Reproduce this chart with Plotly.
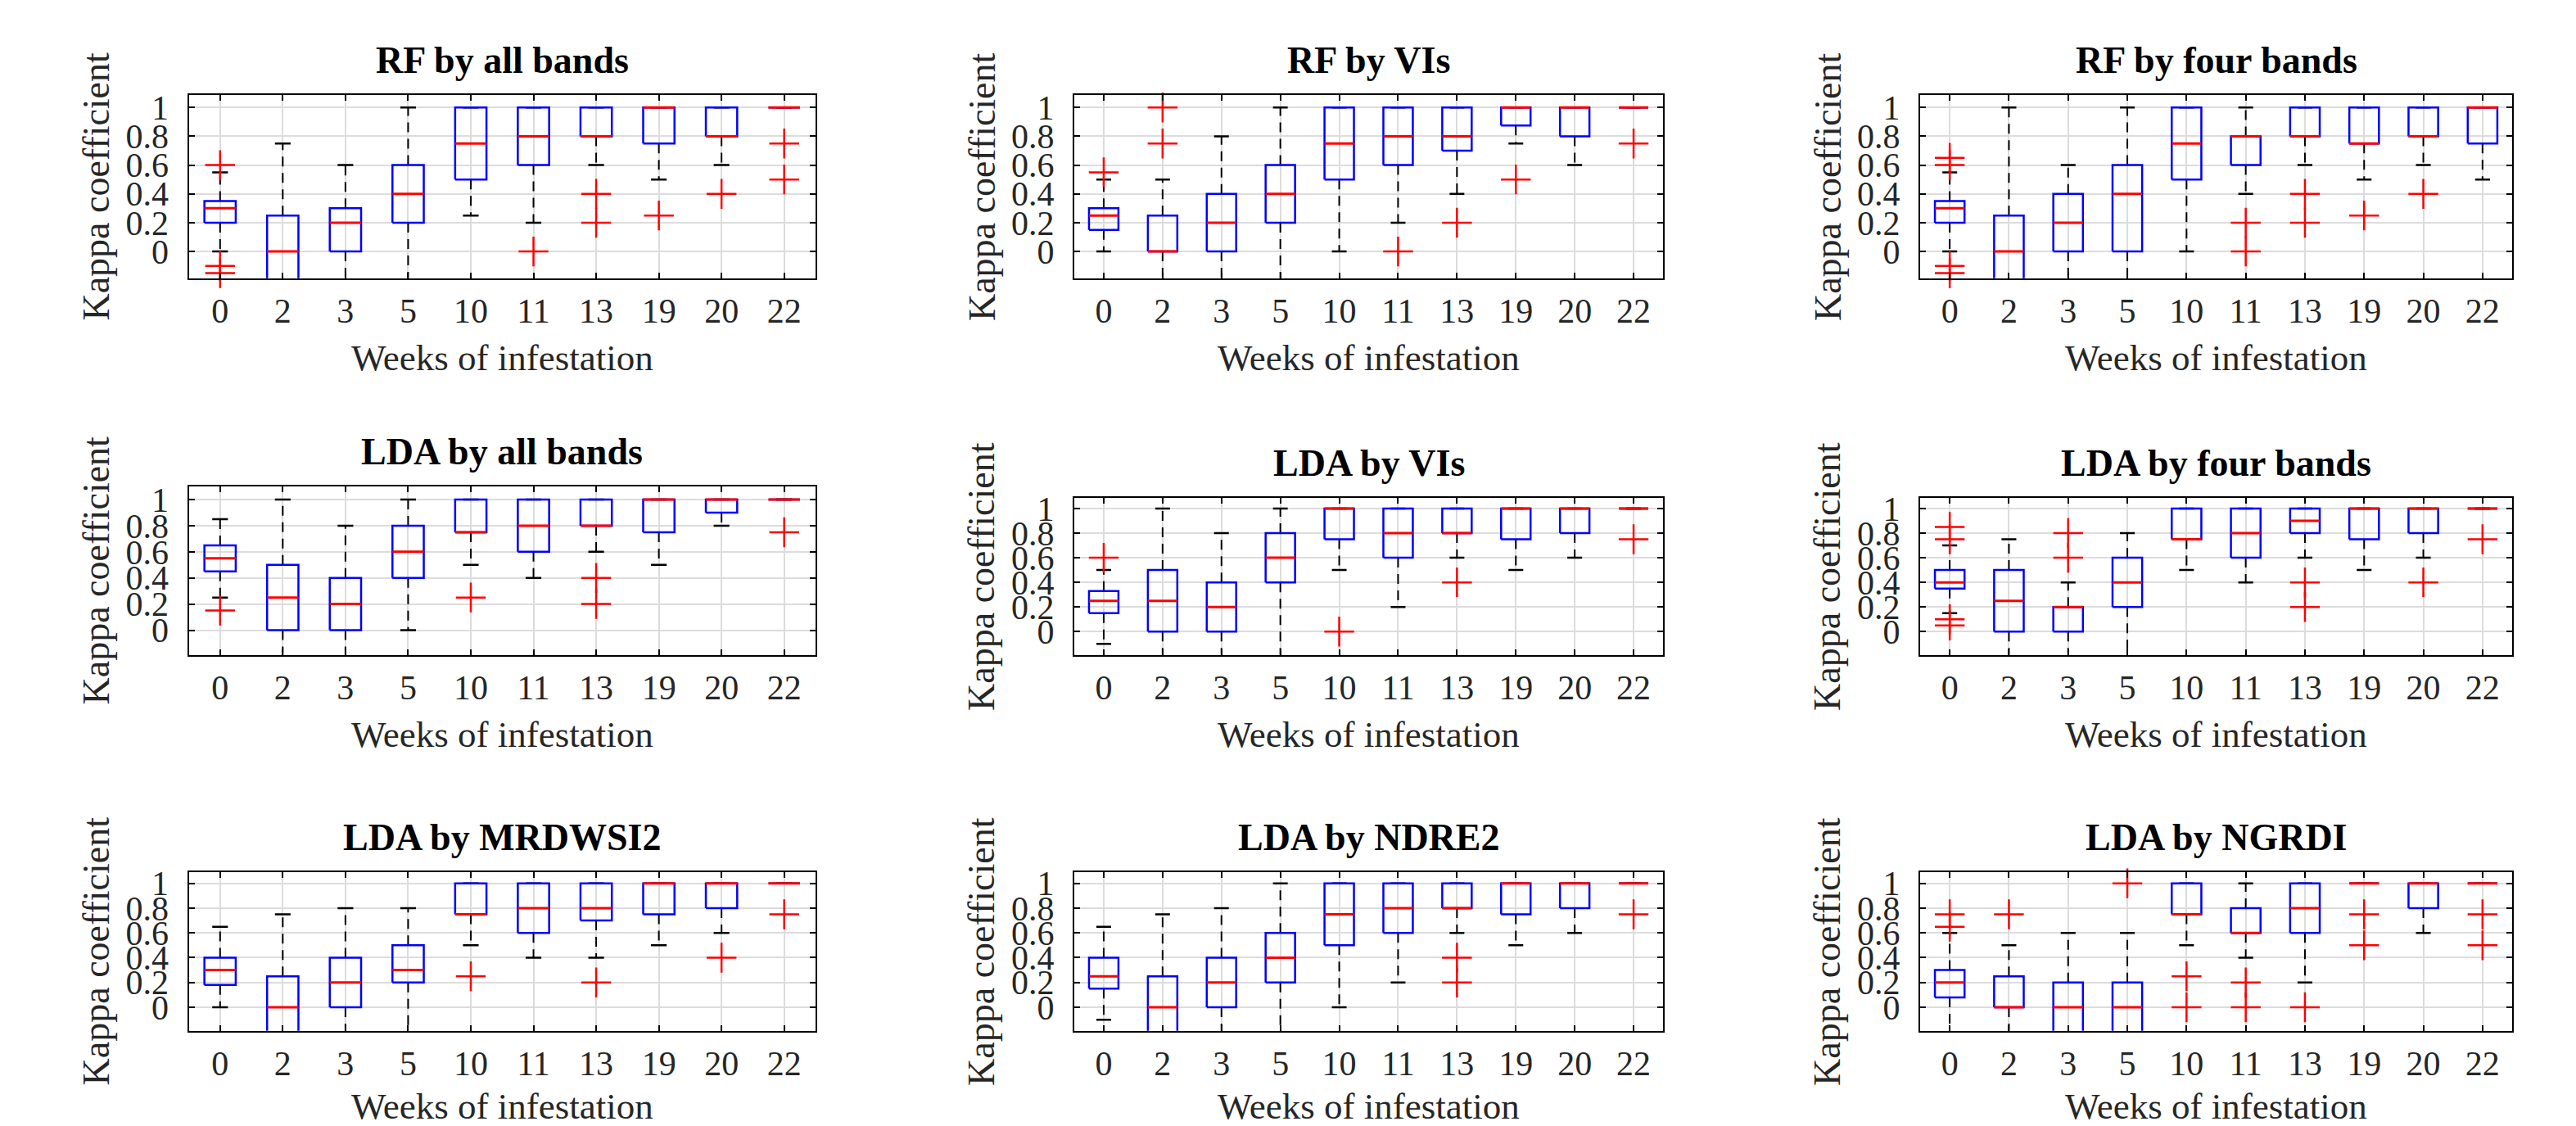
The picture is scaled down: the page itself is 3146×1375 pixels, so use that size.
import plotly.graph_objects as go

WEEKS = ["0", "2", "3", "5", "10", "11", "13", "19", "20", "22"]
TITLES = ["RF by all bands", "RF by VIs", "RF by four bands",
          "LDA by all bands", "LDA by VIs", "LDA by four bands",
          "LDA by MRDWSI2", "LDA by NDRE2", "LDA by NGRDI"]

# ---- Panel 1: RF by all bands ----
P1_LW = [0, -0.3, -0.3, -0.3, 0.25, 0.2, 0.6, 0.5, 0.6, 1]
P1_Q1 = [0.2, -0.25, 0, 0.2, 0.5, 0.6, 0.8, 0.75, 0.8, 1]
P1_MED = [0.3, 0, 0.2, 0.4, 0.75, 0.8, 0.8, 1, 0.8, 1]
P1_Q3 = [0.35, 0.25, 0.3, 0.6, 1, 1, 1, 1, 1, 1]
P1_UW = [0.55, 0.75, 0.6, 1, 1, 1, 1, 1, 1, 1]
P1_OUT_WEEK = ["0", "0", "0", "0", "11", "13", "13", "19", "20", "22", "22"]
P1_OUT_VAL = [0.6, -0.1, -0.15, -0.2, 0, 0.4, 0.2, 0.25, 0.4, 0.75, 0.5]

# ---- Panel 2: RF by VIs ----
P2_LW = [0, -0.3, -0.3, -0.2, 0, 0.2, 0.4, 0.75, 0.6, 1]
P2_Q1 = [0.15, 0, 0, 0.2, 0.5, 0.6, 0.7, 0.875, 0.8, 1]
P2_MED = [0.25, 0, 0.2, 0.4, 0.75, 0.8, 0.8, 1, 1, 1]
P2_Q3 = [0.3, 0.25, 0.4, 0.6, 1, 1, 1, 1, 1, 1]
P2_UW = [0.5, 0.5, 0.8, 1, 1, 1, 1, 1, 1, 1]
P2_OUT_WEEK = ["0", "2", "2", "11", "13", "19", "22"]
P2_OUT_VAL = [0.55, 1, 0.75, 0, 0.2, 0.5, 0.75]

# ---- Panel 3: RF by four bands ----
P3_LW = [0, -0.3, -0.3, -0.3, 0, 0.4, 0.6, 0.5, 0.6, 0.5]
P3_Q1 = [0.2, -0.25, 0, 0, 0.5, 0.6, 0.8, 0.75, 0.8, 0.75]
P3_MED = [0.3, 0, 0.2, 0.4, 0.75, 0.8, 0.8, 0.75, 0.8, 1]
P3_Q3 = [0.35, 0.25, 0.4, 0.6, 1, 0.8, 1, 1, 1, 1]
P3_UW = [0.55, 1, 0.6, 1, 1, 1, 1, 1, 1, 1]
P3_OUT_WEEK = ["0", "0", "0", "0", "11", "11", "13", "13", "19", "20"]
P3_OUT_VAL = [0.65, 0.6, -0.1, -0.15, 0.2, 0, 0.4, 0.2, 0.25, 0.4]

# ---- Panel 4: LDA by all bands ----
P4_LW = [0.25, -0.3, -0.2, 0, 0.5, 0.4, 0.6, 0.5, 0.8, 1]
P4_Q1 = [0.45, 0, 0, 0.4, 0.75, 0.6, 0.8, 0.75, 0.9, 1]
P4_MED = [0.55, 0.25, 0.2, 0.6, 0.75, 0.8, 0.8, 1, 1, 1]
P4_Q3 = [0.65, 0.5, 0.4, 0.8, 1, 1, 1, 1, 1, 1]
P4_UW = [0.85, 1, 0.8, 1, 1, 1, 1, 1, 1, 1]
P4_OUT_WEEK = ["0", "10", "13", "13", "22"]
P4_OUT_VAL = [0.15, 0.25, 0.4, 0.2, 0.75]

# ---- Panel 5: LDA by VIs ----
P5_LW = [-0.1, -0.3, -0.3, -0.2, 0.5, 0.2, 0.6, 0.5, 0.6, 1]
P5_Q1 = [0.15, 0, 0, 0.4, 0.75, 0.6, 0.8, 0.75, 0.8, 1]
P5_MED = [0.25, 0.25, 0.2, 0.6, 1, 0.8, 0.8, 1, 1, 1]
P5_Q3 = [0.33, 0.5, 0.4, 0.8, 1, 1, 1, 1, 1, 1]
P5_UW = [0.5, 1, 0.8, 1, 1, 1, 1, 1, 1, 1]
P5_OUT_WEEK = ["0", "10", "13", "22"]
P5_OUT_VAL = [0.6, 0, 0.4, 0.75]

# ---- Panel 6: LDA by four bands ----
P6_LW = [0.15, -0.3, -0.2, -0.3, 0.5, 0.4, 0.6, 0.5, 0.6, 1]
P6_Q1 = [0.35, 0, 0, 0.2, 0.75, 0.6, 0.8, 0.75, 0.8, 1]
P6_MED = [0.4, 0.25, 0.2, 0.4, 0.75, 0.8, 0.9, 1, 1, 1]
P6_Q3 = [0.5, 0.5, 0.2, 0.6, 1, 1, 1, 1, 1, 1]
P6_UW = [0.7, 0.75, 0.4, 0.8, 1, 1, 1, 1, 1, 1]
P6_OUT_WEEK = ["0", "0", "0", "0", "3", "3", "13", "13", "20", "22"]
P6_OUT_VAL = [0.85, 0.75, 0.1, 0.05, 0.8, 0.6, 0.4, 0.2, 0.4, 0.75]

# ---- Panel 7: LDA by MRDWSI2 ----
P7_LW = [0, -0.3, -0.3, -0.2, 0.5, 0.4, 0.4, 0.5, 0.6, 1]
P7_Q1 = [0.18, -0.25, 0, 0.2, 0.75, 0.6, 0.7, 0.75, 0.8, 1]
P7_MED = [0.3, 0, 0.2, 0.3, 0.75, 0.8, 0.8, 1, 1, 1]
P7_Q3 = [0.4, 0.25, 0.4, 0.5, 1, 1, 1, 1, 1, 1]
P7_UW = [0.65, 0.75, 0.8, 0.8, 1, 1, 1, 1, 1, 1]
P7_OUT_WEEK = ["0", "10", "13", "20", "22"]
P7_OUT_VAL = [-0.2, 0.25, 0.2, 0.4, 0.75]

# ---- Panel 8: LDA by NDRE2 ----
P8_LW = [-0.1, -0.3, -0.3, -0.3, 0, 0.2, 0.6, 0.5, 0.6, 1]
P8_Q1 = [0.15, -0.25, 0, 0.2, 0.5, 0.6, 0.8, 0.75, 0.8, 1]
P8_MED = [0.25, 0, 0.2, 0.4, 0.75, 0.8, 0.8, 1, 1, 1]
P8_Q3 = [0.4, 0.25, 0.4, 0.6, 1, 1, 1, 1, 1, 1]
P8_UW = [0.65, 0.75, 0.8, 1, 1, 1, 1, 1, 1, 1]
P8_OUT_WEEK = ["13", "13", "22"]
P8_OUT_VAL = [0.4, 0.2, 0.75]

# ---- Panel 9: LDA by NGRDI ----
P9_LW = [-0.3, -0.3, -0.2, -0.2, 0.5, 0.4, 0.2, 1, 0.6, 1]
P9_Q1 = [0.08, 0, -0.2, -0.2, 0.75, 0.6, 0.6, 1, 0.8, 1]
P9_MED = [0.2, 0, 0, 0, 0.75, 0.6, 0.8, 1, 1, 1]
P9_Q3 = [0.3, 0.25, 0.2, 0.2, 1, 0.8, 1, 1, 1, 1]
P9_UW = [0.6, 0.5, 0.6, 0.6, 1, 1, 1, 1, 1, 1]
P9_OUT_WEEK = ["0", "0", "2", "5", "10", "10", "11", "11", "13", "19", "19", "22", "22"]
P9_OUT_VAL = [0.75, 0.65, 0.75, 1, 0.25, 0, 0.2, 0, 0, 0.75, 0.5, 0.75, 0.5]

PANELS = [
    (P1_LW, P1_Q1, P1_MED, P1_Q3, P1_UW, P1_OUT_WEEK, P1_OUT_VAL),
    (P2_LW, P2_Q1, P2_MED, P2_Q3, P2_UW, P2_OUT_WEEK, P2_OUT_VAL),
    (P3_LW, P3_Q1, P3_MED, P3_Q3, P3_UW, P3_OUT_WEEK, P3_OUT_VAL),
    (P4_LW, P4_Q1, P4_MED, P4_Q3, P4_UW, P4_OUT_WEEK, P4_OUT_VAL),
    (P5_LW, P5_Q1, P5_MED, P5_Q3, P5_UW, P5_OUT_WEEK, P5_OUT_VAL),
    (P6_LW, P6_Q1, P6_MED, P6_Q3, P6_UW, P6_OUT_WEEK, P6_OUT_VAL),
    (P7_LW, P7_Q1, P7_MED, P7_Q3, P7_UW, P7_OUT_WEEK, P7_OUT_VAL),
    (P8_LW, P8_Q1, P8_MED, P8_Q3, P8_UW, P8_OUT_WEEK, P8_OUT_VAL),
    (P9_LW, P9_Q1, P9_MED, P9_Q3, P9_UW, P9_OUT_WEEK, P9_OUT_VAL),
]

# ---------------- layout geometry (pixels) ----------------
W, H = 3146, 1375
COL_X = [(230.5, 996.0), (1312.0, 2031.0), (2345.0, 3068.0)]
PANEL_TB = [(108, 333), (108, 333), (108, 333),
            (589, 796), (603, 796), (603, 796),
            (1063, 1258), (1063, 1258), (1063, 1258)]
YRANGE = [(-0.186, 1.085)] * 3 + [(-0.19, 1.10), (-0.19, 1.086), (-0.19, 1.086)] + [(-0.19, 1.09)] * 3
XTITLE_OFFSET = [98, 98, 98, 98, 98, 98, 93, 93, 93]

FONT = "Liberation Serif, Times New Roman, serif"
BOX_HALF = 0.25
CAP_HALF = 0.125

fig = go.Figure()
annotations = []
layout_axes = {}

for k, (lw, q1, med, q3, uw, ow, ov) in enumerate(PANELS):
    n = k + 1
    xr = "x" if n == 1 else f"x{n}"
    yr = "y" if n == 1 else f"y{n}"
    pos = list(range(1, len(WEEKS) + 1))

    wx, wy, cx, cy, bx, by, mx, my = [], [], [], [], [], [], [], []
    for i, p in enumerate(pos):
        wx += [p, p, None, p, p, None]
        wy += [q3[i], uw[i], None, q1[i], lw[i], None]
        for v in (uw[i], lw[i]):
            cx += [p - CAP_HALF, p + CAP_HALF, None]
            cy += [v, v, None]
        bx += [p - BOX_HALF, p + BOX_HALF, p + BOX_HALF, p - BOX_HALF, p - BOX_HALF, None]
        by += [q1[i], q1[i], q3[i], q3[i], q1[i], None]
        mx += [p - BOX_HALF, p + BOX_HALF, None]
        my += [med[i], med[i], None]

    fig.add_trace(go.Scatter(x=wx, y=wy, mode="lines", xaxis=xr, yaxis=yr,
                             line=dict(color="black", width=2, dash="12px,8px"),
                             showlegend=False, hoverinfo="skip"))
    fig.add_trace(go.Scatter(x=cx, y=cy, mode="lines", xaxis=xr, yaxis=yr,
                             line=dict(color="black", width=2.5),
                             showlegend=False, hoverinfo="skip"))
    fig.add_trace(go.Scatter(x=bx, y=by, mode="lines", xaxis=xr, yaxis=yr,
                             line=dict(color="#0000ff", width=2.5),
                             showlegend=False, hoverinfo="skip"))
    fig.add_trace(go.Scatter(x=mx, y=my, mode="lines", xaxis=xr, yaxis=yr,
                             line=dict(color="#ff0000", width=3),
                             showlegend=False, hoverinfo="skip"))
    fig.add_trace(go.Scatter(x=[WEEKS.index(w) + 1 for w in ow], y=ov, mode="markers",
                             xaxis=xr, yaxis=yr, cliponaxis=False,
                             marker=dict(symbol="cross-thin", size=26, color="#ff0000",
                                         line=dict(color="#ff0000", width=2.5)),
                             showlegend=False, hoverinfo="skip"))

    col = k % 3
    x0, x1 = COL_X[col]
    top, bot = PANEL_TB[k]
    dx = [x0 / W, x1 / W]
    dy = [1 - bot / H, 1 - top / H]

    common = dict(showline=True, linecolor="black", linewidth=2, mirror="ticks",
                  ticks="inside", ticklen=7, tickwidth=1.5, tickcolor="black",
                  showgrid=True, gridcolor="#dcdcdc", gridwidth=1.5, zeroline=False,
                  tickfont=dict(family=FONT, size=42, color="#262626"))
    layout_axes["xaxis" if n == 1 else f"xaxis{n}"] = dict(
        domain=dx, anchor=yr, range=[0.5, 10.5],
        tickmode="array", tickvals=pos, ticktext=WEEKS, ticklabelstandoff=2, **common)
    layout_axes["yaxis" if n == 1 else f"yaxis{n}"] = dict(
        domain=dy, anchor=xr, range=list(YRANGE[k]),
        tickmode="array", tickvals=[0, 0.2, 0.4, 0.6, 0.8, 1],
        ticktext=["0", "0.2", "0.4", "0.6", "0.8", "1"], ticklabelstandoff=14, **common)

    cxm = (x0 + x1) / 2 / W
    annotations.append(dict(text="<b>" + TITLES[k] + "</b>", xref="paper", yref="paper",
                            x=cxm, y=dy[1], xanchor="center", yanchor="bottom", yshift=15,
                            showarrow=False, font=dict(family=FONT, size=46, color="black")))
    annotations.append(dict(text="Kappa coefficient", xref="paper", yref="paper",
                            x=(x0 - 113) / W, y=(dy[0] + dy[1]) / 2, xanchor="center",
                            yanchor="middle", textangle=-90, showarrow=False,
                            font=dict(family=FONT, size=46, color="#262626")))
    annotations.append(dict(text="Weeks of infestation", xref="paper", yref="paper",
                            x=cxm, y=1 - (bot + XTITLE_OFFSET[k]) / H, xanchor="center",
                            yanchor="middle", showarrow=False, borderpad=0,
                            font=dict(family=FONT, size=45, color="#262626")))

fig.update_layout(width=W, height=H, autosize=False,
                  margin=dict(l=0, r=0, t=0, b=0),
                  paper_bgcolor="white", plot_bgcolor="white",
                  annotations=annotations, **layout_axes)

fig.write_html("out.html", config={"displayModeBar": False},
               post_script="document.body.style.margin='0px';document.body.style.overflow='hidden';")
